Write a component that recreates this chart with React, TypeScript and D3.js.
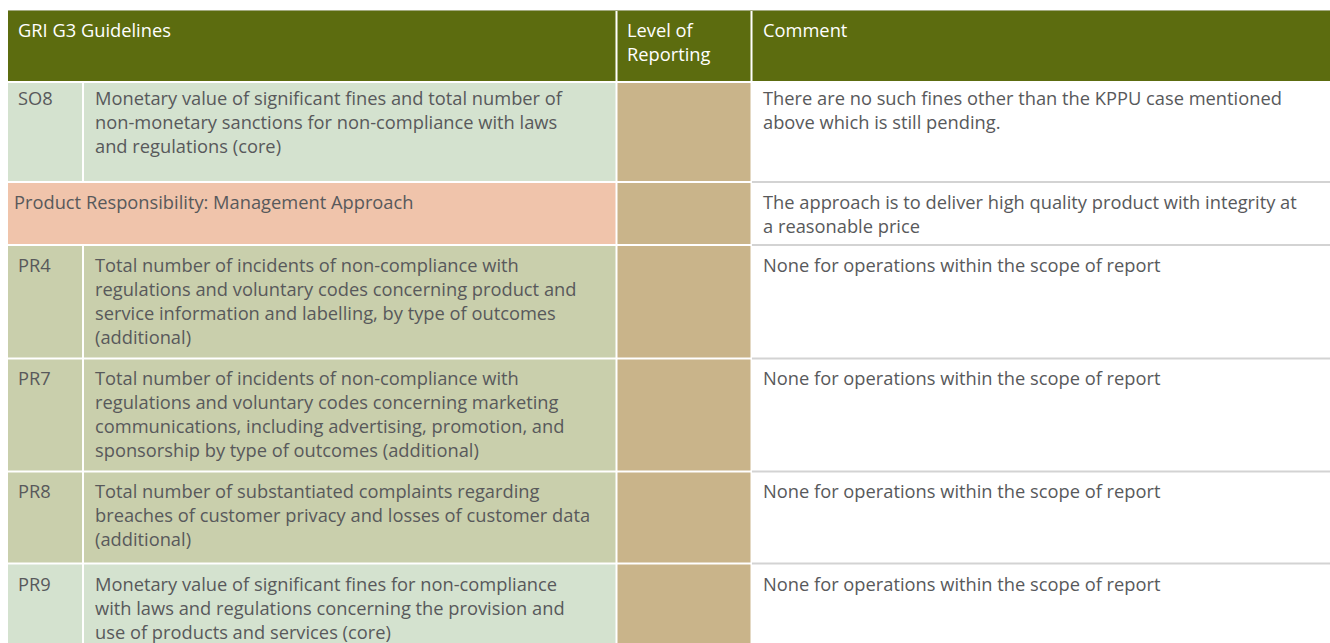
import React, { useRef, useEffect } from 'react';
import * as d3 from 'd3';

// table content
const headers = ["GRI G3 Guidelines", "Level of\nReporting", "Comment"];
const codes = ["SO8", "", "PR4", "PR7", "PR8", "PR9"];
const kinds = ["core", "section", "additional", "additional", "additional", "core"];
const descriptions = [
  ["Monetary value of significant fines and total number of", "non-monetary sanctions for non-compliance with laws", "and regulations (core)"],
  ["Product Responsibility: Management Approach"],
  ["Total number of incidents of non-compliance with", "regulations and voluntary codes concerning product and", "service information and labelling, by type of outcomes", "(additional)"],
  ["Total number of incidents of non-compliance with", "regulations and voluntary codes concerning marketing", "communications, including advertising, promotion, and", "sponsorship by type of outcomes (additional)"],
  ["Total number of substantiated complaints regarding", "breaches of customer privacy and losses of customer data", "(additional)"],
  ["Monetary value of significant fines for non-compliance", "with laws and regulations concerning the provision and", "use of products and services (core)"],
];
const comments = [
  ["There are no such fines other than the KPPU case mentioned", "above which is still pending."],
  ["The approach is to deliver high quality product with integrity at", "a reasonable price"],
  ["None for operations within the scope of report"],
  ["None for operations within the scope of report"],
  ["None for operations within the scope of report"],
  ["None for operations within the scope of report"],
];

const W = 1330;
const H = 643;
const FONT = "'Open Sans', sans-serif";
const FS = 18.3;
const LH = 24;
const TEXT = "#58595b";

// layout
const colEdges = [8, 83, 617, 752, W];
const headTop = 10;
const headH = 72;
const rowH = [100, 63, 113.5, 113, 92, 100];
const rowPad = [22.5, 27, 27, 26.5, 26.5, 27];

const App = () => {
  const svgRef = useRef<SVGSVGElement>(null);

  useEffect(() => {
    document.body.style.margin = "0";
    const svg = d3.select(svgRef.current);
    svg.selectAll("*").remove();

    const fill = d3.scaleOrdinal<string, string>()
      .domain(["core", "section", "additional"])
      .range(["#d4e2cf", "#f0c4ab", "#c9cfac"]);

    const tops = [headTop + headH, ...Array.from(d3.cumsum(rowH)).map(v => v + headTop + headH)];
    const g = svg.append("g").attr("font-family", FONT).attr("font-size", FS);

    // header
    const head = g.append("g");
    head.append("rect").attr("x", colEdges[0]).attr("y", headTop).attr("width", W - colEdges[0]).attr("height", headH - 1).attr("fill", "#5c6c0f");
    head.append("line").attr("x1", colEdges[0]).attr("x2", W).attr("y1", headTop + 0.5).attr("y2", headTop + 0.5).attr("stroke", "#a3aa80");
    [colEdges[2], colEdges[3]].forEach(x => {
      head.append("rect").attr("x", x - 1.5).attr("y", headTop + 1).attr("width", 2).attr("height", headH - 2).attr("fill", "#fff");
    });
    const headX = [colEdges[0] + 10, colEdges[2] + 10, colEdges[3] + 11];
    headers.forEach((h, i) => {
      const t = head.append("text").attr("x", headX[i]).attr("y", headTop + 27).attr("fill", "#fff");
      h.split("\n").forEach((ln, j) => {
        t.append("tspan").attr("x", headX[i]).attr("dy", j === 0 ? 0 : LH).text(ln);
      });
    });

    // body rows
    codes.forEach((code, i) => {
      const y0 = tops[i] + 1;
      const y1 = tops[i + 1] - 1;
      const row = g.append("g");
      const kind = kinds[i];
      if (kind === "section") {
        row.append("rect").attr("x", colEdges[0]).attr("y", y0).attr("width", colEdges[2] - 1.5 - colEdges[0]).attr("height", y1 - y0).attr("fill", fill(kind));
      } else {
        row.append("rect").attr("x", colEdges[0]).attr("y", y0).attr("width", colEdges[1] - 1 - colEdges[0]).attr("height", y1 - y0).attr("fill", fill(kind));
        row.append("rect").attr("x", colEdges[1] + 1).attr("y", y0).attr("width", colEdges[2] - 1.5 - colEdges[1] - 1).attr("height", y1 - y0).attr("fill", fill(kind));
      }
      row.append("rect").attr("x", colEdges[2] + 0.5).attr("y", y0).attr("width", colEdges[3] - 1.5 - colEdges[2] - 0.5).attr("height", y1 - y0).attr("fill", "#c9b48a");
      if (i > 0) {
        row.append("rect").attr("x", colEdges[3]).attr("y", tops[i] - 1).attr("width", W - colEdges[3]).attr("height", 2).attr("fill", "#d3d3d3");
      }

      const base = tops[i] + rowPad[i];
      if (code) {
        row.append("text").attr("x", colEdges[0] + 10).attr("y", base).attr("fill", TEXT).text(code);
      }
      const dx = kind === "section" ? colEdges[0] + 6 : colEdges[1] + 12;
      const dt = row.append("text").attr("y", base).attr("fill", TEXT);
      descriptions[i].forEach((ln, j) => {
        dt.append("tspan").attr("x", dx).attr("dy", j === 0 ? 0 : LH).text(ln);
      });
      const ct = row.append("text").attr("y", base).attr("fill", TEXT);
      comments[i].forEach((ln, j) => {
        ct.append("tspan").attr("x", colEdges[3] + 11).attr("dy", j === 0 ? 0 : LH).text(ln);
      });
    });
  }, []);

  return (
    <svg ref={svgRef} width={W} height={H} style={{ display: "block" }}></svg>
  );
};

export default App;
